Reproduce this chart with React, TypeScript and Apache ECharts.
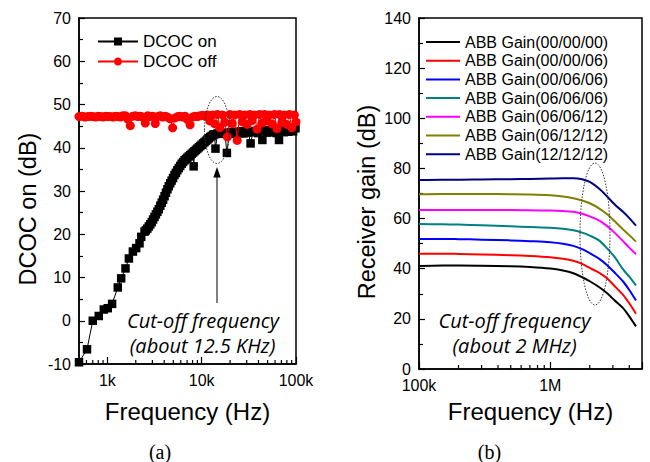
import React, { useEffect, useRef } from "react";
import * as echarts from "echarts";

// ---------- Panel (a): DCOC on / off ----------
const DCOC_ON_FREQ = [
  500, 608, 700, 810, 916, 1009, 1122, 1289, 1400, 1556,
  1690, 1863, 2020, 2190, 2284, 2477, 2560, 2650, 2750, 2850,
  2950, 3050, 3160, 3270, 3390, 3510, 3640, 3770, 3900, 4040,
  4180, 4330, 4480, 4640, 4800, 4970, 5150, 5330, 5520, 5720,
  5920, 6130, 6350, 6580, 6810, 7050, 7300, 7560, 7830, 8110,
  8220, 8400, 8700, 9010, 9330, 9660, 10000, 10350, 10720, 11100,
  11500, 11900, 12300, 12750, 13200, 13650, 14000, 14700, 15600, 16600,
  17600, 18500, 19600, 20800, 22000, 23300, 24700, 26200, 27700, 29400,
  31200, 33000, 35000, 37000, 39200, 41500, 44000, 46600, 49400, 52300,
  55400, 58700, 62200, 66000, 69900, 74000, 78400, 83100, 88000, 93200,
  98800,
];
const DCOC_ON_DB = [
  -9.6, -6.6, 0.0, 1.1, 2.6, 2.9, 3.9, 7.7, 9.8, 12.1,
  14.4, 16.0, 16.8, 17.9, 19.4, 20.6, 20.9, 21.3, 21.8, 22.3,
  22.8, 23.4, 24.0, 24.6, 25.2, 25.8, 26.6, 27.3, 28.0, 28.8,
  29.6, 30.4, 31.1, 31.8, 32.4, 33.0, 33.7, 34.2, 34.8, 35.3,
  35.8, 36.3, 36.7, 37.1, 37.4, 37.7, 38.0, 38.3, 38.6, 38.9,
  35.7, 39.2, 39.5, 39.8, 40.1, 40.4, 40.7, 41.0, 41.3, 41.6,
  41.9, 42.2, 42.5, 42.7, 43.0, 43.1, 39.8, 43.3, 43.5, 43.2,
  43.5, 38.8, 43.4, 43.6, 43.2, 43.7, 43.4, 43.8, 43.3, 43.9,
  43.5, 41.0, 43.7, 43.9, 43.4, 43.8, 41.8, 44.0, 43.5, 44.1,
  43.6, 43.9, 43.4, 41.8, 44.0, 43.6, 44.1, 43.7, 44.2, 43.8,
  44.5,
];
const DCOC_OFF_FREQ = [
  500, 540, 580, 620, 660, 700, 750, 800, 850, 900,
  960, 1020, 1080, 1150, 1220, 1300, 1380, 1460, 1550, 1650,
  1750, 1860, 1980, 2100, 2230, 2370, 2520, 2680, 2850, 3030,
  3220, 3420, 3630, 3860, 4100, 4360, 4630, 4920, 5230, 5560,
  5910, 6280, 6670, 7090, 7530, 8000, 8500, 9030, 9600, 10200,
  10800, 11500, 12200, 13000, 13800, 14700, 15600, 16600, 17600, 18700,
  19900, 21100, 22400, 23800, 25300, 26900, 28600, 30400, 32300, 34300,
  36400, 38700, 41100, 43700, 46400, 49300, 52400, 55700, 59200, 62900,
  66800, 71000, 75400, 80100, 85100, 90400, 96100, 100000,
];
const DCOC_OFF_DB = [
  47.2, 47.3, 47.1, 47.2, 47.3, 47.2, 47.1, 47.3, 47.2, 47.1,
  47.3, 47.2, 47.2, 47.1, 47.3, 47.2, 47.1, 47.4, 47.4, 46.6,
  45.1, 47.3, 47.4, 47.2, 47.3, 47.1, 45.7, 47.4, 47.2, 47.3,
  45.6, 47.2, 47.4, 47.1, 47.3, 47.1, 46.7, 44.6, 46.9, 47.2,
  47.3, 47.1, 47.3, 46.5, 45.3, 47.1, 47.3, 47.2, 47.4, 47.5,
  47.3, 47.6, 46.2, 47.6, 45.5, 47.7, 44.6, 47.6, 45.9, 42.5,
  47.7, 45.6, 47.6, 41.7, 47.7, 46.0, 47.6, 45.4, 47.7, 46.3,
  47.6, 44.3, 47.7, 45.7, 47.7, 46.2, 47.6, 45.5, 47.7, 44.4,
  47.7, 45.9, 47.6, 45.4, 47.7, 44.6, 47.6, 46.0,
];
const A_TICK_VALUES = [1000, 10000, 100000];
const A_TICK_LABELS = ["1k", "10k", "100k"];
const A_MINOR_TICKS = [600, 700, 800, 900, 2000, 3000, 4000, 5000, 6000, 7000, 8000, 9000,
  20000, 30000, 40000, 50000, 60000, 70000, 80000, 90000];

// ---------- Panel (b): Receiver gain ----------
const GAIN_FREQ = [100000, 150000, 200000, 300000, 500000, 700000, 1000000, 1250000, 1500000,
  1750000, 2000000, 2350000, 2700000, 3100000, 3600000, 4000000, 4500000];
const GAIN_NAMES = ["ABB Gain(00/00/00)", "ABB Gain(00/00/06)", "ABB Gain(00/06/06)", "ABB Gain(06/06/06)",
  "ABB Gain(06/06/12)", "ABB Gain(06/12/12)", "ABB Gain(12/12/12)"];
const GAIN_COLORS = ["#000000", "#ff0000", "#0000ff", "#008080", "#ff00ff", "#808000", "#000080"];
const GAIN_000000 = [41.1, 41.3, 41.3, 41.2, 41.0, 40.7, 40.1, 39.3, 38.2, 36.6, 35.0, 32.7, 30.3, 27.3, 24.2, 21.0, 17.0];
const GAIN_000006 = [46.0, 46.0, 45.9, 45.7, 45.4, 45.1, 44.6, 44.0, 43.2, 41.9, 40.3, 38.4, 36.2, 33.0, 29.5, 26.2, 22.0];
const GAIN_000606 = [51.9, 51.9, 51.8, 51.6, 51.3, 51.0, 50.6, 50.0, 49.1, 47.8, 46.2, 44.0, 41.5, 38.4, 34.8, 31.5, 27.3];
const GAIN_060606 = [57.8, 57.7, 57.6, 57.3, 56.9, 56.6, 56.3, 55.9, 55.3, 54.4, 53.2, 51.3, 48.2, 44.6, 39.6, 36.8, 33.3];
const GAIN_060612 = [63.4, 63.4, 63.4, 63.4, 63.4, 63.3, 63.2, 63.0, 62.7, 61.9, 60.9, 59.3, 57.1, 54.3, 50.9, 48.4, 45.8];
const GAIN_061212 = [69.7, 69.8, 69.8, 69.8, 69.7, 69.6, 69.3, 68.8, 68.1, 67.2, 66.1, 64.1, 61.8, 58.9, 55.6, 53.4, 50.8];
const GAIN_121212 = [75.4, 75.5, 75.5, 75.6, 75.7, 75.8, 76.0, 76.1, 76.1, 75.7, 74.6, 72.0, 68.9, 65.6, 62.6, 60.2, 57.2];
const GAIN_SERIES = [GAIN_000000, GAIN_000006, GAIN_000606, GAIN_060606, GAIN_060612, GAIN_061212, GAIN_121212];
const B_TICK_VALUES = [100000, 1000000];
const B_TICK_LABELS = ["100k", "1M"];
const B_MINOR_TICKS = [200000, 300000, 400000, 500000, 600000, 700000, 800000, 900000, 2000000, 3000000, 4000000];

const FONT = "'Liberation Sans', Arial, sans-serif";
const ITALIC = "'Open Sans', sans-serif";
const SERIF = "'Liberation Serif', 'Times New Roman', serif";

function logLabel(values: number[], labels: string[]) {
  return (v: number) => {
    for (let i = 0; i < values.length; i++) {
      if (Math.abs(v - values[i]) / values[i] < 1e-6) return labels[i];
    }
    return "";
  };
}

function minorTickSeries(xi: number, values: number[], yMin: number) {
  return {
    type: "custom",
    xAxisIndex: xi,
    yAxisIndex: xi,
    silent: true,
    z: 10,
    data: values.map((v) => [v, yMin]),
    renderItem: (_p: any, api: any) => {
      const p = api.coord([api.value(0), api.value(1)]);
      return {
        type: "line",
        shape: { x1: p[0], y1: p[1], x2: p[0], y2: p[1] - 4 },
        style: { stroke: "#000", lineWidth: 1.2 },
      };
    },
  };
}

const axisLine = { show: true, onZero: false, lineStyle: { color: "#000", width: 1.5 } };
const labelStyle = { color: "#000", fontSize: 16, fontFamily: FONT, margin: 8 };
const noteStyle = { fontSize: 20, fontStyle: "italic", fontFamily: ITALIC, fill: "#000", align: "center", verticalAlign: "middle" };

export default function App() {
  const ref = useRef<HTMLDivElement>(null);
  useEffect(() => {
    if (!ref.current) return;
    const chart = echarts.init(ref.current, null, { renderer: "svg" });
    const option: any = {
      animation: false,
      backgroundColor: "#fff",
      grid: [
        { left: 79, top: 18, width: 217, height: 346, show: true, borderColor: "#000", borderWidth: 1.5 },
        { left: 419, top: 18, width: 223, height: 351, show: true, borderColor: "#000", borderWidth: 1.5 },
      ],
      xAxis: [
        {
          type: "log", logBase: 10, gridIndex: 0, min: 500, max: 100000,
          axisLine, axisTick: { inside: true, length: 7, lineStyle: { color: "#000", width: 1.2 } },
          splitLine: { show: false },
          axisLabel: { ...labelStyle, formatter: logLabel(A_TICK_VALUES, A_TICK_LABELS) },
        },
        {
          type: "log", logBase: 10, gridIndex: 1, min: 100000, max: 5000000,
          axisLine, axisTick: { inside: true, length: 7, lineStyle: { color: "#000", width: 1.2 } },
          splitLine: { show: false },
          axisLabel: { ...labelStyle, formatter: logLabel(B_TICK_VALUES, B_TICK_LABELS) },
        },
      ],
      yAxis: [
        {
          type: "value", gridIndex: 0, min: -10, max: 70, interval: 10,
          axisLine, axisTick: { inside: true, length: 6, lineStyle: { color: "#000", width: 1.2 } },
          minorTick: { show: true, splitNumber: 2, length: 4, lineStyle: { color: "#000", width: 1.2 } },
          splitLine: { show: false }, minorSplitLine: { show: false },
          axisLabel: labelStyle,
        },
        {
          type: "value", gridIndex: 1, min: 0, max: 140, interval: 20,
          axisLine, axisTick: { inside: true, length: 6, lineStyle: { color: "#000", width: 1.2 } },
          minorTick: { show: true, splitNumber: 2, length: 4, lineStyle: { color: "#000", width: 1.2 } },
          splitLine: { show: false }, minorSplitLine: { show: false },
          axisLabel: labelStyle,
        },
      ],
      legend: [
        {
          data: ["DCOC on", "DCOC off"], left: 97, top: 33, orient: "vertical",
          itemWidth: 40, itemHeight: 10, itemGap: 3, padding: 0,
          textStyle: { fontSize: 17, fontFamily: FONT, color: "#000" },
        },
        {
          data: GAIN_NAMES, left: 426, top: 34, orient: "vertical", icon: "rect",
          itemWidth: 34, itemHeight: 2, itemGap: 2.7, padding: 0,
          textStyle: { fontSize: 16, fontFamily: FONT, color: "#000" },
        },
      ],
      series: [
        {
          name: "DCOC on", type: "line", xAxisIndex: 0, yAxisIndex: 0,
          data: DCOC_ON_FREQ.map((f, i) => [f, DCOC_ON_DB[i]]),
          symbol: "rect", symbolSize: 8.5, showSymbol: true,
          lineStyle: { color: "#000", width: 1 }, itemStyle: { color: "#000" }, z: 2,
        },
        {
          name: "DCOC off", type: "line", xAxisIndex: 0, yAxisIndex: 0,
          data: DCOC_OFF_FREQ.map((f, i) => [f, DCOC_OFF_DB[i]]),
          symbol: "circle", symbolSize: 9, showSymbol: true,
          lineStyle: { color: "#ff0000", width: 1 }, itemStyle: { color: "#ff0000" }, z: 3,
        },
        ...GAIN_SERIES.map((vals, k) => ({
          name: GAIN_NAMES[k], type: "line", xAxisIndex: 1, yAxisIndex: 1,
          data: GAIN_FREQ.map((f, i) => [f, vals[i]]),
          symbol: "none", showSymbol: false, smooth: 0.3,
          lineStyle: { color: GAIN_COLORS[k], width: 2 }, itemStyle: { color: GAIN_COLORS[k] },
        })),
        minorTickSeries(0, A_MINOR_TICKS, -10),
        minorTickSeries(1, B_MINOR_TICKS, 0),
      ],
      graphic: [
        { type: "text", x: 28, y: 209, rotation: Math.PI / 2, style: { text: "DCOC on (dB)", fontSize: 23.5, fontFamily: FONT, fill: "#000", align: "center", verticalAlign: "middle" } },
        { type: "text", x: 367, y: 202, rotation: Math.PI / 2, style: { text: "Receiver gain (dB)", fontSize: 23.5, fontFamily: FONT, fill: "#000", align: "center", verticalAlign: "middle" } },
        { type: "text", x: 187.5, y: 411, style: { text: "Frequency (Hz)", fontSize: 24, fontFamily: FONT, fill: "#000", align: "center", verticalAlign: "middle" } },
        { type: "text", x: 530.5, y: 411, style: { text: "Frequency (Hz)", fontSize: 24, fontFamily: FONT, fill: "#000", align: "center", verticalAlign: "middle" } },
        { type: "text", x: 203, y: 320, style: { text: "Cut-off frequency", ...noteStyle } },
        { type: "text", x: 202.5, y: 345, style: { text: "(about 12.5 KHz)", ...noteStyle } },
        { type: "text", x: 514.5, y: 320, style: { text: "Cut-off frequency", ...noteStyle } },
        { type: "text", x: 514.5, y: 345.5, style: { text: "(about 2 MHz)", ...noteStyle } },
        { type: "text", x: 160, y: 452, style: { text: "(a)", fontSize: 20, fontFamily: SERIF, fill: "#000", align: "center", verticalAlign: "middle" } },
        { type: "text", x: 489.5, y: 452, style: { text: "(b)", fontSize: 20, fontFamily: SERIF, fill: "#000", align: "center", verticalAlign: "middle" } },
        { type: "ellipse", z: 100, shape: { cx: 217, cy: 130, rx: 12.5, ry: 33.5 }, style: { fill: "none", stroke: "#333", lineWidth: 1, lineDash: [1.5, 1.5] } },
        { type: "ellipse", z: 100, shape: { cx: 595, cy: 234, rx: 15, ry: 71 }, style: { fill: "none", stroke: "#333", lineWidth: 1, lineDash: [1.5, 1.5] } },
        { type: "line", z: 100, shape: { x1: 217, y1: 303, x2: 217, y2: 176 }, style: { stroke: "#000", lineWidth: 1 } },
        { type: "polygon", z: 100, shape: { points: [[217, 167], [213.3, 177.5], [220.7, 177.5]] }, style: { fill: "#000" } },
      ],
    };
    chart.setOption(option);
    return () => chart.dispose();
  }, []);
  return <div ref={ref} style={{ position: "absolute", left: 0, top: 0, width: 650, height: 462 }} />;
}
